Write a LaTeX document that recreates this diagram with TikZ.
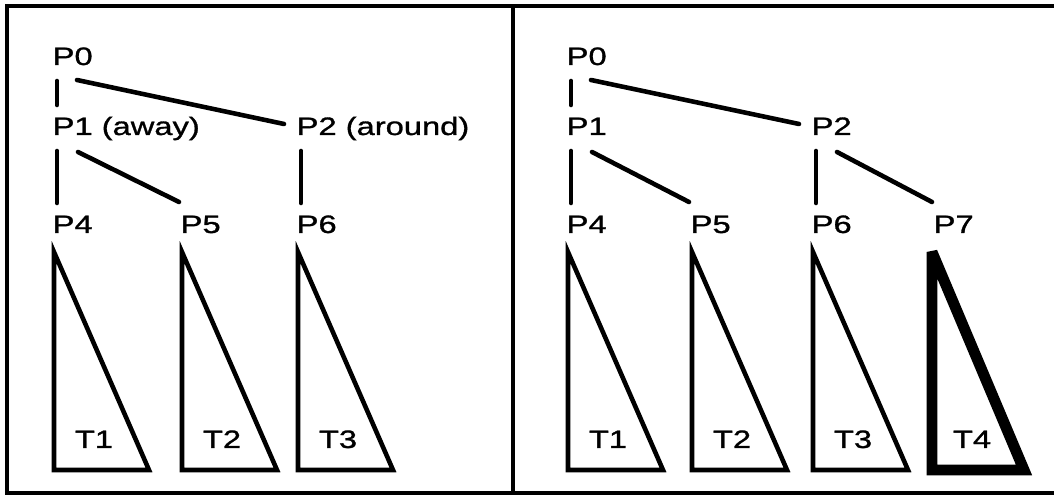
\documentclass[tikz,border=0pt]{standalone}
\usepackage{fontspec}
\newfontfamily\figfont[FakeStretch=1.3,FakeBold=1.2]{Liberation Sans}
\usetikzlibrary{positioning}
\tikzset{
  lbl/.style={font=\figfont\fontsize{7.15}{8}\selectfont,inner sep=0,anchor=base west},
  edge/.style={line width=1.3pt,line cap=round},
  tri/.style={line width=1.3pt,line join=miter},
  frame/.style={line width=1.1pt}
}
\begin{document}
\begin{tikzpicture}[x=0.01cm,y=-0.01cm]
\useasboundingbox (0,0) rectangle (1054,495);
\draw[frame] (1054,6)--(7,6)--(7,493)--(1054,493);
\draw[frame] (513,6)--(513,493);
% left panel: tree with the away/around choice
\foreach \n/\x/\y/\t in {P0/52/65/P0,P1/52/135/{P1 (away)},P2/296/135/{P2 (around)},P4/52/233/P4,P5/180/233/P5,P6/296/233/P6}{\node[lbl] (l\n) at (\x,\y) {\t};}
\foreach \a/\b in {P0/P1,P1/P4,P2/P6}{\draw[edge] ([shift={(5,16)}]l\a.base west)--([shift={(5,-30)}]l\b.base west);}
\draw[edge] ([shift={(25,15)}]lP0.base west)--([shift={(-12,-11)}]lP2.base west);
\draw[edge] ([shift={(26,17)}]lP1.base west)--([shift={(-1,-31)}]lP5.base west);
\foreach \n/\t in {P4/T1,P5/T2,P6/T3}{\draw[tri] ([shift={(2,19)}]l\n.base west)--++(0,218)--++(95,0)--cycle;
  \node[lbl,anchor=base] (l\t) at ([shift={(42,215)}]l\n.base west) {\t};}
% right panel: tree after adding P7
\foreach \n/\x/\y in {P0/566/65,P1/566/135,P2/811/135,P4/566/233,P5/690/233,P6/811/233,P7/933/233}{\node[lbl] (r\n) at (\x,\y) {\n};}
\foreach \a/\b in {P0/P1,P1/P4,P2/P6}{\draw[edge] ([shift={(5,16)}]r\a.base west)--([shift={(5,-30)}]r\b.base west);}
\draw[edge] ([shift={(25,15)}]rP0.base west)--([shift={(-12,-11)}]rP2.base west);
\foreach \a/\b in {P1/P5,P2/P7}{\draw[edge] ([shift={(26,17)}]r\a.base west)--([shift={(-1,-31)}]r\b.base west);}
\foreach \n/\t in {P4/T1,P5/T2,P6/T3}{\draw[tri] ([shift={(2,19)}]r\n.base west)--++(0,218)--++(95,0)--cycle;
  \node[lbl,anchor=base] (r\t) at ([shift={(42,215)}]r\n.base west) {\t};}
\draw[tri,line width=3.1pt,miter limit=2] ([shift={(-1,19)}]rP7.base west)--++(0,218)--++(92,0)--cycle;
\node[lbl,anchor=base] (rT4) at ([shift={(39,215)}]rP7.base west) {T4};
\end{tikzpicture}
\end{document}
